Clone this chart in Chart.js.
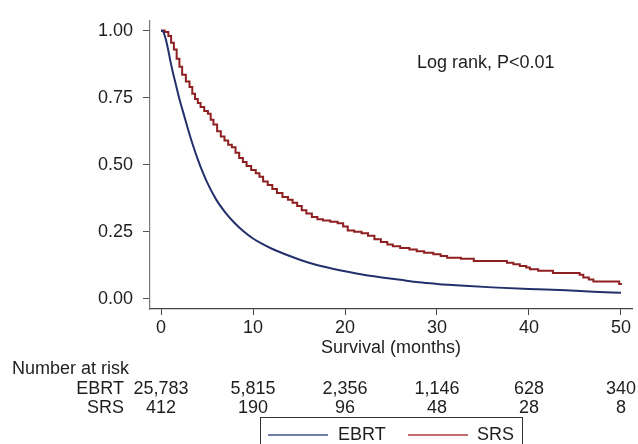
<!DOCTYPE html>
<html>
<head>
<meta charset="utf-8">
<script src="https://cdn.jsdelivr.net/npm/chart.js@4"></script>
<style>
  html, body { margin: 0; padding: 0; background: #ffffff; }
  #c { display: block; }
</style>
</head>
<body>
<canvas id="c" width="638" height="444"></canvas>
<script>
// ---- Data ----
const ebrtMonths = [0, 0.2, 0.5, 0.8, 1.0, 1.25, 1.5, 2, 2.5, 3, 3.5, 4, 4.5, 5, 6, 7, 8, 9, 10, 11, 12, 14, 16, 18, 20, 22, 24, 26, 28, 30, 33, 36, 40, 44, 47, 50];
const ebrtSurv   = [1.0, 0.998, 0.97, 0.925, 0.89, 0.85, 0.815, 0.745, 0.685, 0.625, 0.57, 0.52, 0.475, 0.435, 0.37, 0.322, 0.283, 0.251, 0.225, 0.205, 0.188, 0.16, 0.136, 0.118, 0.103, 0.09, 0.08, 0.071, 0.062, 0.056, 0.049, 0.043, 0.037, 0.032, 0.027, 0.023];

const srsMonths = [0, 0.4, 0.8, 1.1, 1.4, 1.7, 2.0, 2.3, 2.7, 3.1, 3.4, 3.7, 4.0, 4.3, 4.7, 5.1, 5.4, 5.7, 6.1, 6.5, 6.9, 7.3, 7.7, 8.1, 8.5, 8.9, 9.3, 9.8, 10.3, 10.7, 11.1, 11.6, 12.1, 12.6, 13.2, 13.8, 14.3, 14.8, 15.3, 15.8, 16.4, 17.0, 17.6, 18.4, 19.2, 19.8, 20.3, 21.0, 21.8, 22.5, 23.2, 23.9, 24.6, 25.2, 26.0, 27.0, 27.8, 28.6, 29.6, 30.4, 31.1, 32.6, 34.0, 37.6, 38.3, 39.0, 39.7, 40.1, 41.0, 42.6, 45.5, 45.9, 46.5, 47.0, 49.8, 50.1];
const srsSurv   = [1.0, 0.995, 0.98, 0.955, 0.93, 0.895, 0.865, 0.835, 0.81, 0.79, 0.765, 0.745, 0.73, 0.715, 0.70, 0.69, 0.668, 0.65, 0.625, 0.605, 0.59, 0.575, 0.565, 0.545, 0.525, 0.51, 0.495, 0.48, 0.468, 0.455, 0.438, 0.425, 0.41, 0.395, 0.38, 0.37, 0.358, 0.346, 0.33, 0.318, 0.305, 0.297, 0.292, 0.288, 0.282, 0.27, 0.255, 0.25, 0.245, 0.235, 0.222, 0.212, 0.203, 0.196, 0.19, 0.184, 0.178, 0.172, 0.166, 0.16, 0.153, 0.15, 0.141, 0.135, 0.129, 0.123, 0.117, 0.111, 0.105, 0.097, 0.09, 0.08, 0.072, 0.065, 0.056, 0.056];

const xTicks = [0, 10, 20, 30, 40, 50];
const yTicks = [0, 0.25, 0.5, 0.75, 1.0];

const riskTimes = [0, 10, 20, 30, 40, 50];
const ebrtRisk = ["25,783", "5,815", "2,356", "1,146", "628", "340"];
const srsRisk  = ["412", "190", "96", "48", "28", "8"];

const seriesNames = ["EBRT", "SRS"];
const annotationText = "Log rank, P<0.01";
const xTitle = "Survival (months)";
const riskTitle = "Number at risk";

// ---- Styling ----
const FONT = "'Liberation Sans', Arial, Helvetica, sans-serif";
const TXT = "#1e1e1e";
const BLUE = "#24306c";
const RED = "#8e1f21";

const toPts = (xs, ys) => xs.map((x, i) => ({ x: x, y: ys[i] }));

const overlay = {
  id: 'overlay',
  afterDraw(chart) {
    const ctx = chart.ctx;
    const xs = chart.scales.x;
    ctx.save();
    ctx.fillStyle = TXT;
    ctx.font = "18px " + FONT;
    ctx.textBaseline = 'middle';

    // annotation
    ctx.textAlign = 'left';
    ctx.fillText(annotationText, 417, 63);

    // number at risk table
    ctx.fillText(riskTitle, 12, 369);
    ctx.textAlign = 'right';
    ctx.fillText(seriesNames[0], 124, 389);
    ctx.fillText(seriesNames[1], 124, 408);
    ctx.textAlign = 'center';
    riskTimes.forEach((t, i) => {
      const px = xs.getPixelForValue(t);
      ctx.fillText(ebrtRisk[i], px, 389);
      ctx.fillText(srsRisk[i], px, 408);
    });

    // legend box
    ctx.strokeStyle = "#333333";
    ctx.lineWidth = 1;
    ctx.strokeRect(260.5, 417.5, 262, 40);
    ctx.lineWidth = 1.5;
    ctx.strokeStyle = "#43538f";
    ctx.beginPath(); ctx.moveTo(268, 435); ctx.lineTo(328, 435); ctx.stroke();
    ctx.strokeStyle = "#b23a3a";
    ctx.beginPath(); ctx.moveTo(408, 435); ctx.lineTo(468, 435); ctx.stroke();
    ctx.textAlign = 'left';
    ctx.fillText(seriesNames[0], 338, 435);
    ctx.fillText(seriesNames[1], 477, 435);
    ctx.restore();
  }
};

new Chart(document.getElementById('c'), {
  type: 'line',
  data: {
    datasets: [
      {
        label: seriesNames[0],
        data: toPts(ebrtMonths, ebrtSurv),
        borderColor: BLUE,
        borderWidth: 2,
        pointRadius: 0,
        cubicInterpolationMode: 'monotone',
        fill: false
      },
      {
        label: seriesNames[1],
        data: toPts(srsMonths, srsSurv),
        borderColor: RED,
        borderWidth: 2,
        pointRadius: 0,
        stepped: 'before',
        fill: false
      }
    ]
  },
  options: {
    responsive: false,
    animation: false,
    devicePixelRatio: 1,
    layout: { padding: { left: 0, top: 15, right: 6, bottom: 84 } },
    plugins: { legend: { display: false }, tooltip: { enabled: false } },
    scales: {
      x: {
        type: 'linear',
        min: -1.196,
        max: 51.196,
        afterFit: s => { s.height = 51; },
        afterBuildTicks: s => { s.ticks = xTicks.map(v => ({ value: v })); },
        border: { display: true, color: '#444444', width: 1.2 },
        grid: { drawOnChartArea: false, drawTicks: true, tickLength: 6, tickColor: '#444444' },
        ticks: {
          padding: 2,
          color: TXT,
          font: { family: FONT, size: 18 },
          maxRotation: 0,
          autoSkip: false,
          callback: v => String(v)
        },
        title: {
          display: true,
          text: xTitle,
          color: TXT,
          font: { family: FONT, size: 18 },
          padding: { top: 0, bottom: 1 }
        }
      },
      y: {
        type: 'linear',
        min: -0.0376,
        max: 1.0365,
        afterFit: s => { s.width = 150; },
        afterBuildTicks: s => { s.ticks = yTicks.map(v => ({ value: v })); },
        border: { display: true, color: '#777777', width: 1.2 },
        grid: { drawOnChartArea: false, drawTicks: true, tickLength: 7, tickColor: '#555555' },
        ticks: {
          padding: 10,
          color: TXT,
          font: { family: FONT, size: 18 },
          autoSkip: false,
          callback: v => Number(v).toFixed(2)
        }
      }
    }
  },
  plugins: [overlay]
});
</script>
</body>
</html>
